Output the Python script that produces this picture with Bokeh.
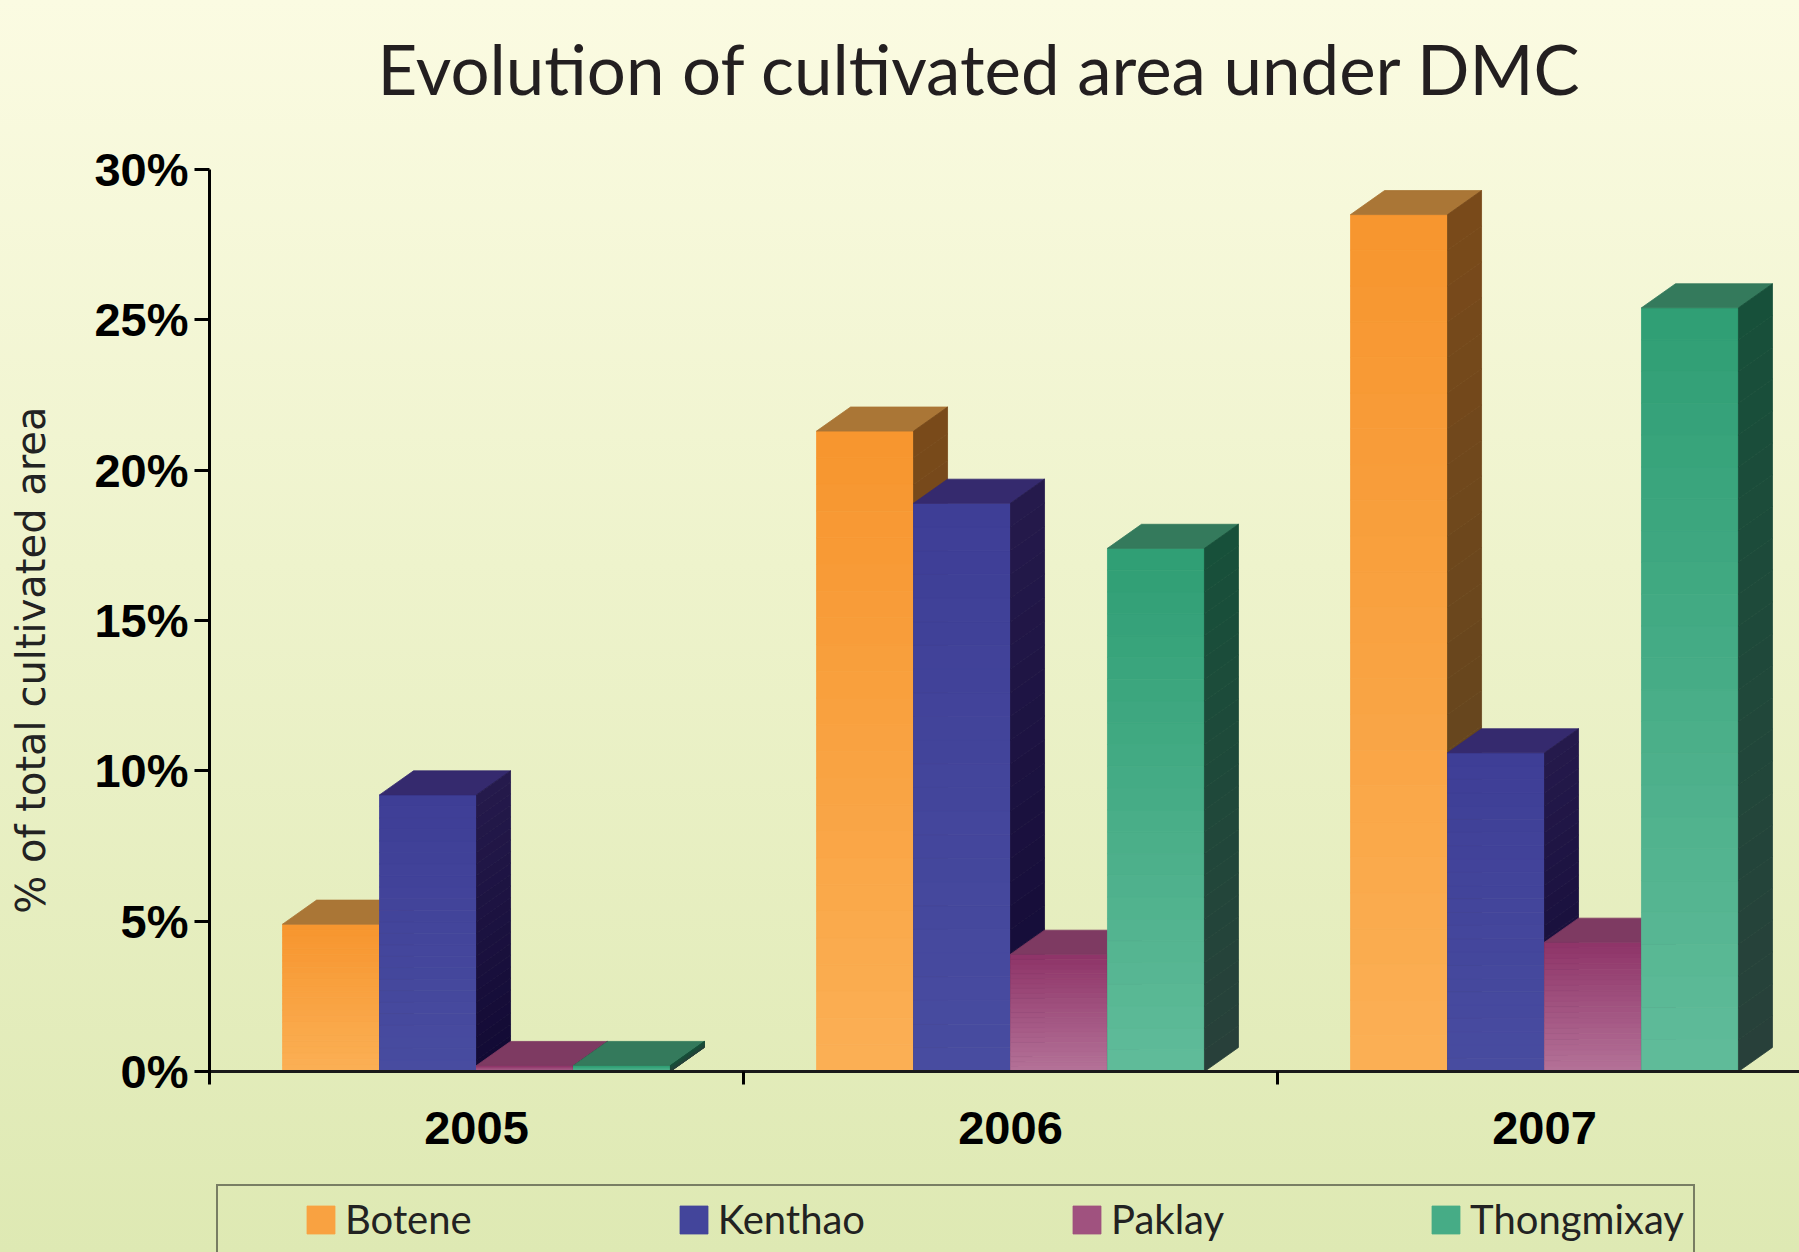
import numpy as np
from bokeh.plotting import figure
from bokeh.models import (Range1d, FixedTicker, PrintfTickFormatter, Legend,
                          LegendItem, ColumnDataSource, Title)
from bokeh.embed import file_html
from bokeh.resources import INLINE

# ---------------- data ----------------
years = ["2005", "2006", "2007"]
series = ["Botene", "Kenthao", "Paklay", "Thongmixay"]
botene = [4.9, 21.3, 28.5]
kenthao = [9.2, 18.9, 10.6]
paklay = [0.2, 3.9, 4.3]
thongmixay = [0.2, 17.4, 25.4]
y_ticks = [0, 5, 10, 15, 20, 25, 30]

values = [botene, kenthao, paklay, thongmixay]

# ---------------- style ----------------
front_top = ["#F7952E", "#3E3E96", "#8E3468", "#2F9E74"]
front_bottom = ["#FBB055", "#484CA0", "#B47298", "#60BC9A"]
top_face = ["#AA7636", "#352A6E", "#7E3A62", "#347A5C"]
side_top = ["#7A4A1A", "#251A4C", "#5E2446", "#17503A"]
side_bottom = ["#5A4320", "#120A34", "#4A1A38", "#28403A"]

BAR_W = 0.1816   # bar width in category units
DX = 0.0637      # 3-D depth, x (category units)
DY = 0.8         # 3-D depth, y (percent units)
N = 24           # gradient slices

PX_PER_PCT = (1071 - 169) / 30.0
Y_MIN = -(1252 - 1071) / PX_PER_PCT   # room below the x axis for labels + legend


def hex2rgb(h):
    h = h.lstrip("#")
    return tuple(int(h[i:i + 2], 16) for i in (0, 2, 4))


def mix(c_bottom, c_top, f):
    a, b = hex2rgb(c_bottom), hex2rgb(c_top)
    return "#%02x%02x%02x" % tuple(int(round(a[i] + (b[i] - a[i]) * f)) for i in range(3))


p = figure(width=1799, height=1252, output_backend="svg", toolbar_location=None,
           x_range=Range1d(0, 1590 / 534), y_range=Range1d(Y_MIN, 30),
           min_border_left=209, min_border_right=0, min_border_top=169,
           min_border_bottom=0)
p.styles = {"background": "linear-gradient(to bottom, #FBFBE2 0%, #EEF3CC 45%, #DEE9B3 100%)"}
p.background_fill_color = None
p.border_fill_color = None
p.outline_line_color = None
p.grid.grid_line_color = None

legend_items = []
for s_idx, (name, vals) in enumerate(zip(series, values)):
    fl, fr, fb, ft, fc = [], [], [], [], []
    sxs, sys, sc = [], [], []
    txs, tys = [], []
    for j, v in enumerate(vals):
        center = j + 0.5
        left = center - 2 * BAR_W + s_idx * BAR_W
        right = left + BAR_W
        for k in range(N):
            b = v * k / N
            t = v * (k + 1) / N
            f = (k + 0.5) / N
            fl.append(left); fr.append(right); fb.append(b); ft.append(t)
            fc.append(mix(front_bottom[s_idx], front_top[s_idx], f))
            sxs.append([right, right + DX, right + DX, right])
            sys.append([b, b + DY, t + DY, t])
            sc.append(mix(side_bottom[s_idx], side_top[s_idx], f))
        txs.append([left, right, right + DX, left + DX])
        tys.append([v, v, v + DY, v + DY])
    front_src = ColumnDataSource(dict(left=fl, right=fr, bottom=fb, top=ft, color=fc))
    fr_r = p.quad(left="left", right="right", bottom="bottom", top="top",
                  fill_color="color", line_color="color", line_width=0.8,
                  source=front_src)
    p.patches(xs=txs, ys=tys, fill_color=top_face[s_idx], line_color=top_face[s_idx],
              line_width=0.8)
    p.patches(xs="xs", ys="ys", fill_color="color", line_color="color", line_width=0.8,
              source=ColumnDataSource(dict(xs=sxs, ys=sys, color=sc)))
    legend_items.append(LegendItem(label=name, renderers=[fr_r], index=N // 2))

# ---------------- axes ----------------
yax = p.yaxis[0]
yax.ticker = FixedTicker(ticks=y_ticks)
yax.bounds = (-13 / PX_PER_PCT, 30)
yax.formatter = PrintfTickFormatter(format="%d%%")
yax.axis_line_width = 3
yax.axis_line_color = "black"
yax.major_tick_out = 15
yax.major_tick_in = 0
yax.major_tick_line_width = 3
yax.minor_tick_line_color = None
yax.major_label_standoff = 6
yax.major_label_text_font = "Liberation Sans"
yax.major_label_text_font_style = "bold"
yax.major_label_text_font_size = "47px"
yax.major_label_text_color = "black"
# leading no-break spaces lift the centred label to where the reference has it
yax.axis_label = "\u00a0" * 8 + "% of total cultivated area"
yax.axis_label_text_font = "DejaVu Sans"
yax.axis_label_text_font_style = "normal"
yax.axis_label_text_font_size = "40px"
yax.axis_label_text_color = "#222222"
yax.axis_label_standoff = 37

xax = p.xaxis[0]
xax.fixed_location = 0
xax.ticker = FixedTicker(ticks=[j + 0.5 for j in range(len(years))],
                         minor_ticks=list(range(1, len(years))))
xax.major_label_overrides = {j + 0.5: y for j, y in enumerate(years)}
xax.axis_line_width = 3
xax.axis_line_color = "#1a1a1a"
xax.major_tick_line_color = None
xax.major_tick_out = 0
xax.major_tick_in = 0
xax.minor_tick_out = 13
xax.minor_tick_in = 0
xax.minor_tick_line_width = 3
xax.minor_tick_line_color = "black"
xax.major_label_standoff = 27
xax.major_label_text_font = "Liberation Sans"
xax.major_label_text_font_style = "bold"
xax.major_label_text_font_size = "47px"
xax.major_label_text_color = "black"

# ---------------- title ----------------
# spacer between the frame and the title (keeps the title high, frame top fixed)
p.add_layout(Title(text=" ", text_font_size="10px", standoff=42), "above")
p.title.text = "Evolution of cultivated area under DMC"
p.title.text_font = "Lato"
p.title.text_font_style = "normal"
p.title.text_font_size = "69px"
p.title.text_color = "#231F20"
p.title.align = "left"
p.title.offset = 168
p.title.standoff = 10

# ---------------- legend ----------------
legend = Legend(items=legend_items, orientation="horizontal", location=(7, -2),
                glyph_width=35, glyph_height=35, label_height=35, label_standoff=7,
                spacing=204, padding=9, margin=0,
                border_line_color="#111111", border_line_width=2.5,
                background_fill_alpha=0,
                label_text_font="Lato", label_text_font_size="40px",
                label_text_color="#222222",
                title=" ", title_location="left", title_text_font_size="20px",
                title_standoff=53)
p.add_layout(legend)

open("out.html", "w").write(file_html(p, INLINE))
